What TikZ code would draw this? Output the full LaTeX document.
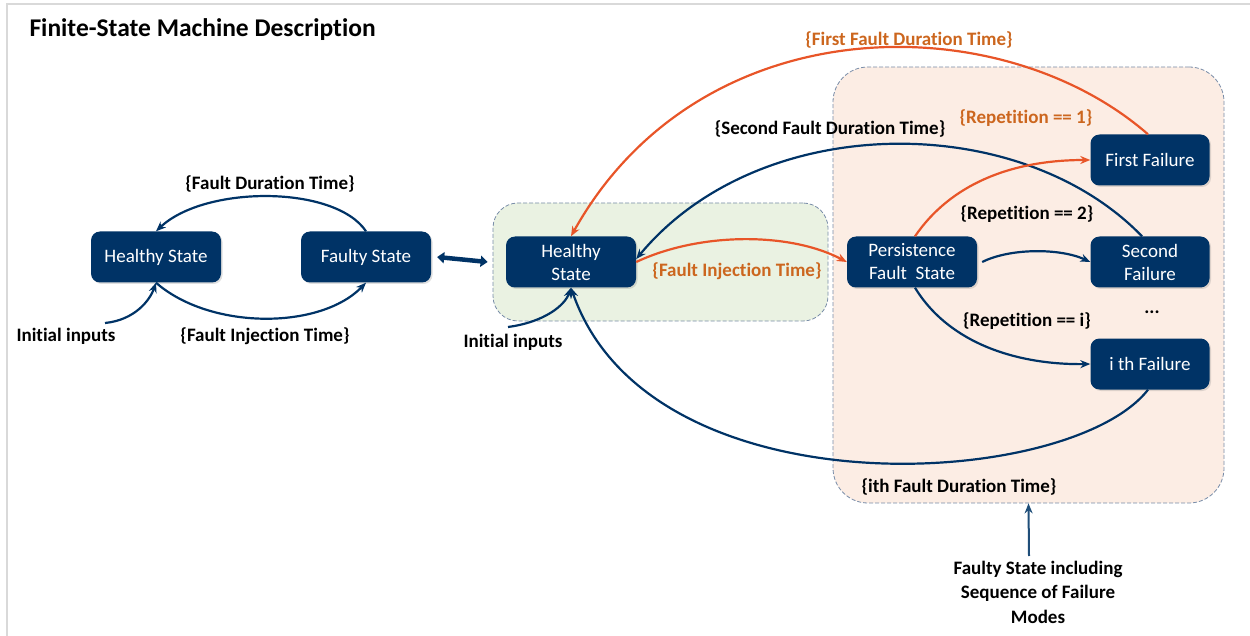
\documentclass[tikz,border=0pt]{standalone}
\usepackage{fontspec}
\setmainfont{Carlito}[Ligatures=NoCommon]
\usetikzlibrary{arrows.meta,shadows}
\definecolor{navy}{RGB}{0,51,102}
\definecolor{steel}{RGB}{31,78,121}
\definecolor{redorange}{RGB}{232,85,40}
\definecolor{txtorange}{RGB}{204,102,30}
\definecolor{greenfill}{RGB}{234,242,226}
\definecolor{pinkfill}{RGB}{252,237,228}
\definecolor{dashgray}{RGB}{120,140,168}
\definecolor{framegray}{RGB}{217,217,217}
\tikzset{
  state/.style={draw=none, fill=navy, text=white, rounded corners=9pt,
    minimum width=130pt, minimum height=51pt, inner sep=2pt, align=center,
    font=\fontsize{19}{23}\selectfont,
    drop shadow={shadow xshift=1.5pt, shadow yshift=-1.5pt, opacity=0.25}},
  fail/.style={state, minimum width=119pt},
  region/.style={draw=dashgray, dashed, dash pattern=on 4pt off 2pt, line width=0.8pt},
  lbl/.style={font=\bfseries\fontsize{19}{23}\selectfont, inner sep=1pt},
  olbl/.style={lbl, text=txtorange},
  navyarrow/.style={draw=navy, line width=2.2pt, -{Stealth[length=10pt,width=8pt]}},
  orangearrow/.style={draw=redorange, line width=2.2pt, -{Stealth[length=10pt,width=8pt]}},
}
\begin{document}
\begin{tikzpicture}[x=1pt,y=-1pt]
\useasboundingbox (0,0) rectangle (1250,636);
% outer frame edges
\draw[framegray, line width=2pt] (7,636) -- (7,4) -- (1250,4);

\node[anchor=west, font=\bfseries\fontsize{25.5}{30}\selectfont] (title) at (26,30) {Finite-State Machine Description};

% grouping regions
\node[region, fill=greenfill, rounded corners=25pt, minimum width=335pt, minimum height=118pt] (gbox) at (660.5,262) {};
\node[region, fill=pinkfill, rounded corners=35pt, minimum width=391pt, minimum height=436pt] (pbox) at (1028.5,285) {};

% simple machine
\node[state] (hsL) at (156,257) {Healthy State};
\node[state] (fsL) at (366,257) {Faulty State};

% detailed machine
\node[state] (hsM) at (571,262) {Healthy\\State};
\node[state] (pfs) at (912,262) {Persistence\\Fault\ \ State};
\node[fail] (ff) at (1150,160) {First Failure};
\node[fail] (sf) at (1150,262) {Second\\Failure};
\node[fail] (itf) at (1150,364) {i th Failure};
\node[lbl] (dots) at (1152,312) {...};

% labels
\node[lbl] (lfd) at (270,184) {\{Fault Duration Time\}};
\node[lbl] (lfi) at (265,336) {\{Fault Injection Time\}};
\node[lbl] (in1t) at (66,336) {Initial inputs};
\node[lbl] (in2t) at (513,342) {Initial inputs};
\node[olbl] (l1fd) at (909,40) {\{First Fault Duration Time\}};
\node[lbl] (l2fd) at (830,129) {\{Second Fault Duration Time\}};
\node[olbl] (lr1) at (1026,118) {\{Repetition == 1\}};
\node[lbl] (lr2) at (1027,214) {\{Repetition == 2\}};
\node[olbl] (lfi2) at (737,271) {\{Fault Injection Time\}};
\node[lbl] (lri) at (1027,321) {\{Repetition == i\}};
\node[lbl] (lifd) at (959,487) {\{ith Fault Duration Time\}};
\node[lbl, align=center, font=\bfseries\fontsize{19}{24.5}\selectfont] (note) at (1038,592) {Faulty State including\\Sequence of Failure\\Modes};

\coordinate (in1) at (105,323);
\coordinate (in2) at (508,327);
\coordinate (noteTop) at (1029,556);

% simple machine transitions
\draw[navyarrow] (fsL.north) .. controls (335,185) and (205,185) .. (hsL.north);
\draw[navyarrow] (hsL.south) .. controls (210,330) and (320,330) .. (fsL.south);
\draw[navyarrow] (in1) .. controls (135,320) and (150,300) .. (hsL.south);

% link between the two descriptions
\draw[draw=navy, line width=4.5pt, {Triangle[length=7pt,width=11pt]}-{Triangle[length=7pt,width=11pt]}] ([xshift=6pt]fsL.east) -- ([xshift=-5pt]gbox.west);

% detailed machine transitions
\draw[navyarrow] (in2) .. controls (545,322) and (565,305) .. (hsM.south);
\draw[orangearrow] (hsM.east) .. controls (700,232) and (790,232) .. (pfs.west);
\draw[orangearrow] ([xshift=-2pt]ff.north) .. controls (1000,5) and (700,5) .. (hsM.north);
\draw[navyarrow] ([xshift=-8pt]sf.north) .. controls (1020,110) and (760,110) .. ([yshift=3pt]hsM.east);
\draw[orangearrow] ([xshift=3pt]pfs.north) .. controls (950,185) and (1010,160) .. (ff.west);
\draw[navyarrow] ([xshift=5pt]pfs.east) .. controls (1010,248) and (1060,248) .. (sf.west);
\draw[navyarrow] ([xshift=3pt]pfs.south) .. controls (950,345) and (1020,365) .. (itf.west);
\draw[navyarrow] ([xshift=-2pt]itf.south) .. controls (1070,490) and (650,515) .. (hsM.south);

\draw[draw=steel, line width=2pt, -{Stealth[length=10pt,width=8pt]}] (noteTop) -- (pbox.south);
\end{tikzpicture}
\end{document}
